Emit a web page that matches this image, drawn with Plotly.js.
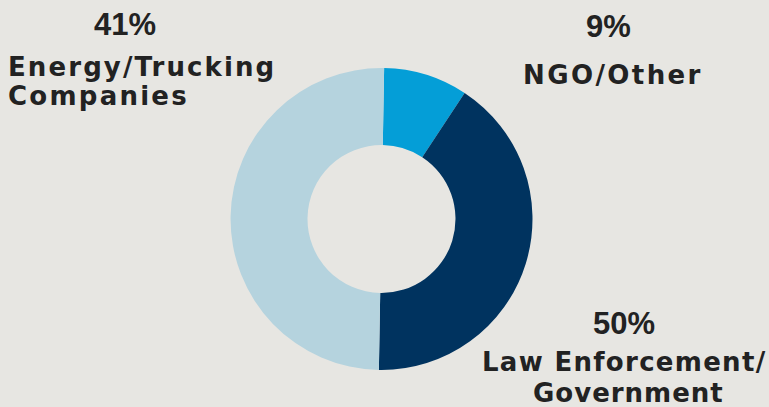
<!DOCTYPE html>
<html>
<head>
<meta charset="utf-8">
<script src="https://cdn.plot.ly/plotly-3.0.1.min.js"></script>
<style>
  html, body { margin: 0; padding: 0; background: #E7E6E2; }
  #chart { width: 769px; height: 407px; }
</style>
</head>
<body>
<div id="chart"></div>
<script>
// Data (slice shares as drawn, clockwise from 12 o'clock)
var categories = ["NGO/Other", "Law Enforcement/Government", "Energy/Trucking Companies"];
var sliceShares = [9, 41, 50];
var sliceColors = ["#049ED7", "#00335F", "#B5D3DE"];
// Text printed beside the donut in the reference
var percentLabels = ["9%", "50%", "41%"];
var nameLines = [["NGO/Other"], ["Law Enforcement/", "Government"], ["Energy/Trucking", "Companies"]];

var W = 769, H = 407;
function px(x) { return x / W; }
function py(y) { return 1 - y / H; }

var textColor = "#222222";
var pctFont = "Liberation Sans, Arial, sans-serif";
var nameFont = "DejaVu Sans, sans-serif";

// label layout: percent position, line positions + letter spacing, anchor
var labelLayout = [
  { pct: [608, 26.5], lines: [[613, 75, 2.4]], anchor: "center" },
  { pct: [624, 323.5], lines: [[624, 361.5, 1.3], [628, 392.5, 1.0]], anchor: "center" },
  { pct: [125, 24], lines: [[6, 66.5, 2.1], [6, 95.5, 2.25]], anchor: "left" }
];

var annotations = [];
labelLayout.forEach(function (L, i) {
  annotations.push({
    xref: "paper", yref: "paper",
    x: px(L.pct[0]), y: py(L.pct[1]),
    xanchor: "center", yanchor: "middle",
    text: "<b>" + percentLabels[i] + "</b>",
    showarrow: false,
    font: { family: pctFont, size: 31, color: textColor }
  });
  L.lines.forEach(function (p, j) {
    annotations.push({
      xref: "paper", yref: "paper",
      x: px(p[0]), y: py(p[1]),
      xanchor: L.anchor, yanchor: "middle",
      text: '<span style="letter-spacing:' + p[2] + 'px"><b>' + nameLines[i][j] + '</b></span>',
      showarrow: false,
      font: { family: nameFont, size: 26, color: textColor }
    });
  });
});

var cx = 381.5, cy = 219, r = 151;
var trace = {
  type: "pie",
  labels: categories,
  values: sliceShares,
  sort: false,
  direction: "clockwise",
  rotation: 1,
  hole: 0.49,
  textinfo: "none",
  hoverinfo: "label+percent",
  marker: { colors: sliceColors, line: { width: 0 } },
  domain: { x: [px(cx - r), px(cx + r)], y: [py(cy + r), py(cy - r)] },
  showlegend: false
};

var layout = {
  width: W, height: H,
  margin: { l: 0, r: 0, t: 0, b: 0 },
  paper_bgcolor: "#E7E6E2",
  plot_bgcolor: "#E7E6E2",
  showlegend: false,
  annotations: annotations
};

Plotly.newPlot("chart", [trace], layout, { displayModeBar: false, staticPlot: true });
</script>
</body>
</html>
